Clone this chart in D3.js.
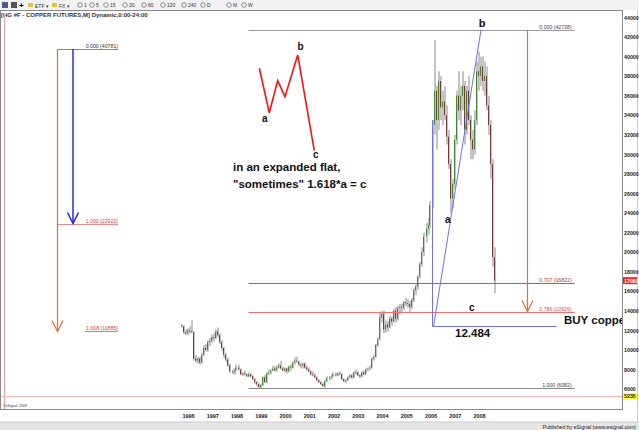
<!DOCTYPE html>
<html><head><meta charset="utf-8">
<script src="https://cdn.jsdelivr.net/npm/d3@7"></script>
<style>html,body{margin:0;padding:0;background:#fff;} svg{display:block;font-family:"Liberation Sans",Arial,sans-serif;}</style>
</head><body><svg id="c" width="639" height="430"></svg>
<script>
// ---- DATA (monthly OHLC, copper futures, price x100) ----
const firstMonth = "1995-12";
const opens = [12500,
 12400,11800,11700,12000,11900,11800,9100,8900,9100,8700,9500,10200,
 10000,10800,10900,11300,11200,11900,11500,10800,10200,9500,9000,8400,
 7800,7700,7900,8200,8000,7500,7600,7500,7300,7500,7300,7000,
 6700,6500,6200,6400,7200,6700,7600,7700,7900,8100,7900,8200,
 8400,8100,7900,8100,7800,8300,8200,8700,8900,8800,8500,8400,
 8600,8200,8000,7800,7500,7400,7200,6900,6700,6500,6300,6800,
 7100,7200,7300,7500,7400,7600,7500,7000,6800,6900,7200,7400,
 7200,7700,7700,7400,7300,7700,7500,8000,8100,8200,9100,9300,
 10500,11100,13300,13700,12100,12600,12300,13200,12900,14000,13200,14300,
 14400,14300,14900,14800,14700,14400,15100,16100,16500,17500,18800,20000,
 21600,22400,22800,24800,33000,36500,33500,37500,34800,35400,34000,31800,
 29000,25500,27000,31500,36000,34500,36000,37000,32500,36500,33500,31500,
 30500,33500,38500,38000,39000,37500,38000,35000,33000,29000,19500];
const highs = [12600,
 12500,12100,12200,12400,13000,11900,9500,9300,9300,9700,10500,10600,
 11000,11200,11600,11700,12100,12300,11700,11000,10300,9700,9200,8600,
 8000,8100,8500,8500,8100,7700,7900,7600,7700,7600,7400,7100,
 6800,6600,6500,7300,7400,7700,8000,8000,8400,8300,8400,8600,
 8900,8300,8200,8200,8400,8500,8800,9200,9300,8900,8700,8700,
 8700,8400,8200,7900,7800,7600,7300,7000,6800,6600,6900,7300,
 7300,7500,7700,7700,7700,7800,7600,7100,7000,7300,7500,7500,
 7800,8000,7800,7500,7800,7900,8100,8200,8400,9200,9500,10600,
 11300,13800,14000,14000,13000,13000,13500,13400,14200,14400,14500,14700,
 14700,15000,15300,15200,15000,15300,16300,16700,17600,19000,20500,22000,
 23000,23500,25200,33500,41700,37000,38500,38000,36500,37000,35000,32500,
 29500,27500,32000,36500,38500,37000,38500,37500,37000,38000,34000,32500,
 34500,39500,40500,40000,40000,39500,39000,36000,33500,29500,20500];
const lows = [12300,
 11600,11500,11500,11700,11700,8900,8700,8600,8500,8600,9400,9800,
 9800,10400,10700,10900,11100,11300,10600,9900,9200,8800,8300,7700,
 7500,7500,7800,7900,7400,7300,7400,7200,7200,7200,6900,6500,
 6300,6100,6100,6300,6600,6600,7400,7500,7800,7800,7800,8100,
 8000,7800,7700,7600,7700,7900,8100,8500,8700,8300,8100,8100,
 8100,7900,7700,7400,7300,7100,6800,6600,6400,6200,6100,6700,
 6900,7000,7200,7300,7300,7400,6900,6700,6600,6800,7100,7000,
 7100,7500,7300,7100,7200,7400,7500,7800,7900,8100,8900,9200,
 10300,11000,12800,11700,11800,11900,12200,12500,12800,12800,13000,13600,
 13800,14100,14500,14300,13900,14200,14900,15600,16200,17300,18500,19600,
 21000,21800,22500,24500,32000,30500,32500,33500,33000,33500,31000,28500,
 24000,24500,26500,31000,33500,33000,34500,31000,32000,33000,29500,29500,
 30000,33000,36500,37000,36500,36000,34500,32000,27500,18500,15800];
const closes = [12400,
 11800,11700,12000,11900,11800,9100,8900,9100,8700,9500,10200,10000,
 10800,10900,11300,11200,11900,11500,10800,10200,9500,9000,8400,7800,
 7700,7900,8200,8000,7500,7600,7500,7300,7500,7300,7000,6700,
 6500,6200,6400,7200,6700,7600,7700,7900,8100,7900,8200,8400,
 8100,7900,8100,7800,8300,8200,8700,8900,8800,8500,8400,8600,
 8200,8000,7800,7500,7400,7200,6900,6700,6500,6300,6800,7100,
 7200,7300,7500,7400,7600,7500,7000,6800,6900,7200,7400,7200,
 7700,7700,7400,7300,7700,7500,8000,8100,8200,9100,9300,10500,
 11100,13300,13700,12100,12600,12300,13200,12900,14000,13200,14300,14400,
 14300,14900,14800,14700,14400,15100,16100,16500,17500,18800,20000,21600,
 22400,22800,24800,33000,36500,33500,37500,34800,35400,34000,31800,29000,
 25500,27000,31500,36000,34500,36000,37000,32500,36500,33500,31500,30500,
 33500,38500,38000,39000,37500,38000,35000,33000,29000,19500,17080];
const yearLabels = ["1996","1997","1998","1999","2000","2001","2002","2003","2004","2005","2006","2007","2008"];
const priceTicks = [6000,8000,10000,12000,14000,16000,18000,20000,22000,24000,26000,28000,30000,32000,34000,36000,38000,40000,42000,44000];
const lastPrice = 17080;
const lowLine = 5235;
// Fibonacci tools (level, value)
const fibRightLevels = ["0.000","0.707","0.786","1.000"];
const fibRightValues = [42738,16822,13926,6082];
const fibLeftLevels = ["0.000","1.000","1.618"];
const fibLeftValues = [40781,22922,11885];
const measureValue = 12484;
const measureText = "12.484";

// ---- SETUP ----
const svg = d3.select("#c");
const W = 639, H = 430;
const box = {l:0, t:10, r:622, b:409};
const x = d3.scaleTime().domain([new Date(1996,0,1), new Date(2008,0,1)]).range([183, 474]);
const y = d3.scaleLinear().domain([6000, 42000]).range([389, 37]);
const yr = t => { const yy = Math.floor(t); const d = new Date(yy,0,1); return x(new Date(d.getTime() + (t-yy)*365.25*864e5)); };

svg.append("rect").attr("width",W).attr("height",H).attr("fill","#fff");

// toolbar
const tb = svg.append("g");
tb.append("rect").attr("x",0).attr("y",0).attr("width",W).attr("height",10).attr("fill","#f2f2f2");
tb.append("rect").attr("x",2).attr("y",2).attr("width",6).attr("height",6).attr("fill","#4a5a8a");
tb.append("rect").attr("x",11).attr("y",2).attr("width",6).attr("height",6).attr("fill","#555");
tb.append("text").attr("x",19).attr("y",8).attr("font-size",8).attr("font-weight","bold").text("+");
const tItems = [{x:28,t:"ETF ▾"},{x:52,t:"FX ▾"}];
tItems.forEach(d=>{
  tb.append("rect").attr("x",d.x).attr("y",3).attr("width",5).attr("height",4).attr("fill","#e8c040");
  tb.append("text").attr("x",d.x+7).attr("y",7.5).attr("font-size",5).attr("fill","#333").text(d.t);
});
const iItems = [["1",80],["5",92],["15",106],["30",125],["60",144],["120",163],["240",184],["D",203],["M",229],["W",244]];
iItems.forEach(([t,px])=>{
  tb.append("circle").attr("cx",px).attr("cy",5).attr("r",2.3).attr("fill","none").attr("stroke","#666").attr("stroke-width",0.7);
  tb.append("text").attr("x",px+4).attr("y",7).attr("font-size",5).attr("fill","#333").text(t);
});

// chart frame
svg.append("rect").attr("x",box.l+0.5).attr("y",box.t+0.5).attr("width",box.r-box.l).attr("height",box.b-box.t)
  .attr("fill","none").attr("stroke","#8a8a8a").attr("stroke-width",1);
svg.append("line").attr("x1",637.5).attr("x2",637.5).attr("y1",10).attr("y2",421).attr("stroke","#ccc");

// title
svg.append("text").attr("x",1).attr("y",16.5).attr("font-size",6).attr("font-weight","bold").attr("fill","#333")
  .text("[HG #F - COPPER FUTURES,M] Dynamic,0:00-24:00");

// clip
svg.append("defs").append("clipPath").attr("id","clip").append("rect")
  .attr("x",box.l+1).attr("y",box.t+1).attr("width",box.r-box.l-1).attr("height",box.b-box.t-1);
const g = svg.append("g").attr("clip-path","url(#clip)");

// left edge red line & low line
g.append("line").attr("x1",4.5).attr("x2",4.5).attr("y1",14).attr("y2",409).attr("stroke","#f3a0a0").attr("stroke-width",1);
g.append("line").attr("x1",0).attr("x2",box.r).attr("y1",Math.round(y(lowLine))+0.5).attr("y2",Math.round(y(lowLine))+0.5).attr("stroke","#ffb0b0");

// bars
const start = d3.timeParse("%Y-%m")(firstMonth);
const months = d3.timeMonth.range(start, d3.timeMonth.offset(start, opens.length));
const bars = months.map((m,i)=>({m, o:opens[i], h:highs[i], l:lows[i], c:closes[i]}));
const bg = g.append("g");
bg.selectAll("rect.w").data(bars).join("rect").attr("class","w")
  .attr("x",d=>Math.round(x(d.m))).attr("width",2)
  .attr("y",d=>y(d.h)).attr("height",d=>Math.max(1,y(d.l)-y(d.h)))
  .attr("fill","#c4c4c4");
bg.selectAll("rect.b").data(bars).join("rect").attr("class","b")
  .attr("x",d=>Math.round(x(d.m))).attr("width",1)
  .attr("y",d=>y(Math.max(d.o,d.c))).attr("height",d=>Math.max(1,Math.abs(y(d.o)-y(d.c))))
  .attr("fill",d=>d.c>=d.o?"#3c8a32":"#7a3a3a");

// right fib tool
const fibColorsR = ["#9a9a9a","#b05a5a","#ff6a6a","#8a8a8a"];
const fibTextR = ["#444","#a04040","#ff4040","#444"];
const rx0 = yr(1998.7), rx1 = yr(2012.15);
fibRightValues.forEach((v,i)=>{
  const yy = Math.round(y(v))+0.5;
  g.append("line").attr("x1",rx0).attr("x2",rx1).attr("y1",yy).attr("y2",yy).attr("stroke",fibColorsR[i]).attr("stroke-width",1);
  g.append("text").attr("x",rx1-3).attr("y",yy-1.5).attr("text-anchor","end").attr("font-size",5.2).attr("fill",fibTextR[i])
    .text(`${fibRightLevels[i]} (${fibRightValues[i]})`);
});
// left fib tool
const fibColorsL = ["#8a8a8a","#f08a8a","#f07070"];
const lx0 = 57, lx1 = 118;
fibLeftValues.forEach((v,i)=>{
  const yy = Math.round(y(v))+0.5;
  g.append("line").attr("x1",i==2?85:lx0).attr("x2",lx1).attr("y1",yy).attr("y2",yy).attr("stroke",fibColorsL[i]).attr("stroke-width",1);
  g.append("text").attr("x",lx1).attr("y",yy-1.5).attr("text-anchor","end").attr("font-size",5.2).attr("fill",i==0?"#333":"#ff3030")
    .text(`${fibLeftLevels[i]} (${fibLeftValues[i]})`);
});

// arrows
function arrow(xp, y0, y1, color, w){
  g.append("line").attr("x1",xp).attr("x2",xp).attr("y1",y0).attr("y2",y1).attr("stroke",color).attr("stroke-width",w);
  g.append("path").attr("d",`M${xp-5.5},${y1-11}L${xp},${y1}L${xp+5.5},${y1-11}`).attr("fill","none").attr("stroke",color).attr("stroke-width",w);
}
arrow(73, y(fibLeftValues[0]), y(fibLeftValues[1]), "#1a1aff", 1.4);
arrow(57.5, y(fibLeftValues[0]), y(fibLeftValues[2]), "#f26a2a", 1.2);
arrow(Math.round(yr(2010.2))+0.5, y(fibRightValues[0]), y(fibRightValues[2]), "#f26a2a", 1.2);

// blue measure lines
const bx = Math.round(yr(2006.27))+0.5, by = Math.round(y(measureValue))+0.5;
const blue = "#6f6ff5";
g.append("line").attr("x1",bx).attr("x2",bx).attr("y1",y(33500)).attr("y2",by).attr("stroke",blue);
g.append("line").attr("x1",bx).attr("x2",yr(2011.4)).attr("y1",by).attr("y2",by).attr("stroke",blue);
g.append("line").attr("x1",bx+1).attr("x2",yr(2008.29)).attr("y1",by).attr("y2",y(42738)).attr("stroke",blue);

// labels on chart
const lbl = (t,xp,yp,fs)=>g.append("text").attr("x",xp).attr("y",yp).attr("font-size",fs).attr("font-weight","bold").attr("fill","#111").text(t);
lbl("b", yr(2008.2), 27, 11);
lbl("a", 445, 223, 10);
lbl("c", 469, 311, 10);
lbl(measureText, 455, 337, 11.5);
lbl("BUY copper", 564, 324, 11.5);

// mini diagram
const mini = [[259.3,68.3],[269.3,112.7],[277.7,80.7],[285,96.7],[297.7,55],[314.3,150.7]];
g.append("path").attr("d",d3.line()(mini)).attr("fill","none").attr("stroke","#ff1010").attr("stroke-width",1.6);
lbl("a", 262, 122, 10);
lbl("b", 297.5, 50, 10);
lbl("c", 313, 158, 10);
lbl("in an expanded flat,", 233, 171, 11.5);
lbl("\"sometimes\" 1.618*a = c", 233, 188, 11.5);

g.append("text").attr("x",3).attr("y",407).attr("font-size",3.5).attr("fill","#333").text("©eSignal, 2009");

// right price axis
const ra = svg.append("g").attr("transform",`translate(624,0)`)
  .call(d3.axisRight(y).tickValues(priceTicks).tickSize(0).tickPadding(0).tickFormat(d=>d));
ra.select(".domain").remove();
ra.selectAll("text").attr("font-size",5.3).attr("font-weight","bold").attr("fill","#222").attr("font-family","Liberation Sans, Arial");
// price boxes
const pb = (v,bgc,fc)=>{
  const yy = y(v);
  svg.append("rect").attr("x",623).attr("y",yy-3.5).attr("width",14).attr("height",7).attr("fill",bgc);
  svg.append("text").attr("x",624).attr("y",yy+2).attr("font-size",5.3).attr("font-weight","bold").attr("fill",fc).text(v);
};
pb(lastPrice,"#ff2020","#fff");
pb(lowLine,"#ffff30","#222");

// bottom year axis
const xa = svg.append("g").attr("transform","translate(0,414)")
  .call(d3.axisBottom(x).tickValues(yearLabels.map(s=>new Date(+s,0,1))).tickSize(0).tickPadding(0).tickFormat(d3.timeFormat("%Y")));
xa.select(".domain").remove();
xa.selectAll("text").attr("dx",5).attr("font-size",5.5).attr("font-weight","bold").attr("fill","#222").attr("font-family","Liberation Sans, Arial");

// status strip
svg.append("rect").attr("x",0).attr("y",422).attr("width",W).attr("height",8).attr("fill","#e6e6e6");
svg.append("line").attr("x1",0).attr("x2",W).attr("y1",422).attr("y2",422).attr("stroke","#c8c8c8");
svg.append("text").attr("x",636).attr("y",428.5).attr("text-anchor","end").attr("font-size",5.2).attr("fill","#222")
  .text("Published by eSignal (www.esignal.com)");
</script></body></html>
